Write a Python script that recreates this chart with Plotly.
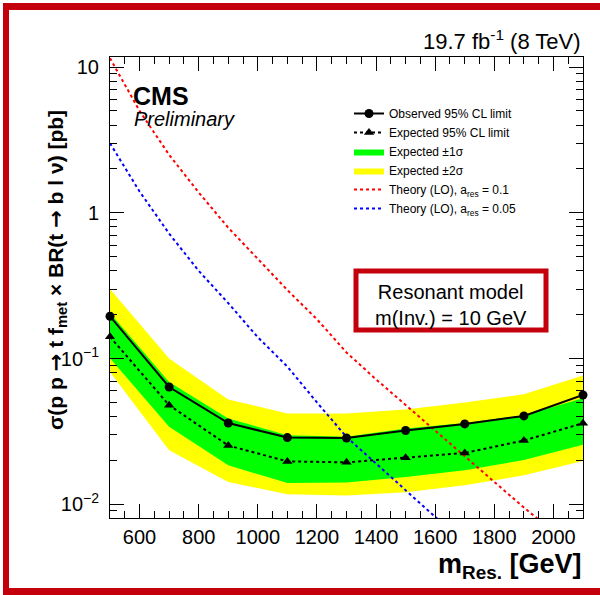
import plotly.graph_objects as go

# Resonant mass points (GeV)
mass = [500, 700, 900, 1100, 1300, 1500, 1700, 1900, 2100]

# 95% CL upper limits on sigma x BR (pb)
observed = [0.195, 0.0638, 0.0361, 0.0287, 0.0285, 0.0321, 0.0356, 0.0404, 0.0562]
expected = [0.141, 0.0479, 0.0253, 0.0197, 0.0194, 0.0209, 0.0225, 0.0274, 0.0360]

# Expected-limit uncertainty bands
band1_up = [0.205, 0.069, 0.0388, 0.0298, 0.0291, 0.0331, 0.0361, 0.0408, 0.0535]
band1_lo = [0.1005, 0.034, 0.0185, 0.0140, 0.0141, 0.0154, 0.0171, 0.0201, 0.0256]
band2_up = [0.30, 0.100, 0.0524, 0.042, 0.042, 0.0448, 0.0499, 0.0569, 0.0764]
band2_lo = [0.081, 0.0235, 0.01425, 0.0117, 0.0115, 0.0121, 0.0135, 0.0158, 0.0198]

# LO theory cross sections
theory_mass = [500, 600, 700, 800, 900, 1000, 1100, 1200, 1300, 1400,
               1500, 1600, 1700, 1800, 1900, 2000, 2100]
theory_a01 = [11.5, 5.0, 2.5, 1.38, 0.79, 0.48, 0.295, 0.186, 0.11, 0.072,
              0.048, 0.032, 0.0214, 0.0141, 0.0095, 0.0065, 0.0044]
theory_a005 = [3.0, 1.4, 0.72, 0.40, 0.24, 0.14, 0.088, 0.05, 0.029, 0.019,
               0.0125, 0.0082, 0.0055, 0.0037, 0.0025, 0.0017, 0.0011]

W, H = 600, 595
L, R, T, B = 110, 17, 57, 77
PW, PH = W - L - R, H - T - B
FONT = "Liberation Sans, Arial, Helvetica, sans-serif"
ARROW = '<span style="font-family:DejaVu Sans">\u2192</span>'
FRAME_RED = "#c4000c"


def px_x(p):
    return (p - L) / PW


def px_y(p):
    return (H - B - p) / PH


fig = go.Figure()

# +-2 sigma band
fig.add_trace(go.Scatter(
    x=mass + mass[::-1], y=band2_up + band2_lo[::-1],
    fill="toself", fillcolor="#ffff00", line=dict(width=0, color="#ffff00"),
    mode="lines", name="Expected \u00b12\u03c3", legendrank=4, hoverinfo="skip"))
# +-1 sigma band
fig.add_trace(go.Scatter(
    x=mass + mass[::-1], y=band1_up + band1_lo[::-1],
    fill="toself", fillcolor="#00ff00", line=dict(width=0, color="#00ff00"),
    mode="lines", name="Expected \u00b11\u03c3", legendrank=3, hoverinfo="skip"))

# Theory curves
fig.add_trace(go.Scatter(
    x=theory_mass, y=theory_a01, mode="lines",
    line=dict(color="#ff0000", width=2, dash="dot"),
    name="Theory (LO), a<sub>res</sub> = 0.1", legendrank=5))
fig.add_trace(go.Scatter(
    x=theory_mass, y=theory_a005, mode="lines",
    line=dict(color="#0000ff", width=2, dash="dot"),
    name="Theory (LO), a<sub>res</sub> = 0.05", legendrank=6))

# Expected and observed limits
fig.add_trace(go.Scatter(
    x=mass, y=expected, mode="lines+markers", cliponaxis=False,
    line=dict(color="black", width=2, dash="dot"),
    marker=dict(symbol="triangle-up", size=9, color="black"),
    name="Expected 95% CL limit", legendrank=2))
fig.add_trace(go.Scatter(
    x=mass, y=observed, mode="lines+markers", cliponaxis=False,
    line=dict(color="black", width=2),
    marker=dict(symbol="circle", size=9, color="black"),
    name="Observed 95% CL limit", legendrank=1))

axis_common = dict(
    showline=True, linecolor="black", linewidth=1, mirror="allticks",
    ticks="inside", tickcolor="black", tickwidth=1, ticklen=14,
    showgrid=False, zeroline=False,
    tickfont=dict(family=FONT, size=20, color="black"),
)

fig.update_xaxes(
    range=[500, 2100], tick0=0, dtick=200,
    minor=dict(ticks="inside", ticklen=7, dtick=50, tick0=0,
               tickcolor="black", tickwidth=1, showgrid=False),
    ticklabelstandoff=1,
    **axis_common)

fig.update_yaxes(
    type="log", range=[-2.094, 1.069],
    tickvals=[0.01, 0.1, 1, 10],
    ticktext=["10<sup>\u22122</sup>", "10<sup>\u22121</sup>", "1", "10"],
    minor=dict(ticks="inside", ticklen=7, dtick="D1",
               tickcolor="black", tickwidth=1, showgrid=False),
    ticklabelstandoff=6,
    **axis_common)

ytitle = ("<b>\u03c3(p p " + ARROW + " t f<sub>met</sub> \u00d7 BR(t "
          + ARROW + " b l \u03bd) [pb]</b>")

annotations = [
    dict(text="19.7 fb<sup>-1</sup> (8 TeV)", x=1.0, y=px_y(40),
         xanchor="right", yanchor="middle",
         font=dict(family=FONT, size=22, color="black")),
    dict(text="<b>CMS</b>", x=px_x(131), y=px_y(96),
         xanchor="left", yanchor="middle",
         font=dict(family=FONT, size=25, color="black")),
    dict(text="<i>Preliminary</i>", x=px_x(132), y=px_y(119),
         xanchor="left", yanchor="middle",
         font=dict(family=FONT, size=20, color="black")),
    dict(text="Resonant model<br>m(Inv.) = 10 GeV", x=px_x(451), y=px_y(305),
         xanchor="center", yanchor="middle", align="center",
         font=dict(family=FONT, size=20, color="black")),
    dict(text=ytitle, x=px_x(57), y=px_y(270), textangle=-90,
         xanchor="center", yanchor="middle",
         font=dict(family=FONT, size=21, color="black")),
    dict(text="<b>m<sub>Res.</sub> [GeV]</b>", x=1.0, y=px_y(566),
         xanchor="right", yanchor="middle",
         font=dict(family=FONT, size=27, color="black")),
]
for a in annotations:
    a.update(xref="paper", yref="paper", showarrow=False)

shapes = [
    # model box
    dict(type="rect", x0=px_x(356), x1=px_x(546), y0=px_y(330), y1=px_y(271),
         line=dict(color=FRAME_RED, width=5), fillcolor="white", layer="above"),
    # outer frame (left, top, bottom)
    dict(type="rect", x0=px_x(3), x1=px_x(9), y0=px_y(595), y1=px_y(3),
         line=dict(width=0), fillcolor=FRAME_RED),
    dict(type="rect", x0=px_x(3), x1=px_x(600), y0=px_y(10), y1=px_y(3),
         line=dict(width=0), fillcolor=FRAME_RED),
    dict(type="rect", x0=px_x(3), x1=px_x(600), y0=px_y(595), y1=px_y(588),
         line=dict(width=0), fillcolor=FRAME_RED),
]
for s in shapes:
    s.update(xref="paper", yref="paper")

fig.update_layout(
    width=W, height=H,
    margin=dict(l=L, r=R, t=T, b=B),
    paper_bgcolor="white", plot_bgcolor="white",
    annotations=annotations, shapes=shapes,
    showlegend=True,
    legend=dict(x=px_x(349), y=px_y(99), xanchor="left", yanchor="top",
                bgcolor="rgba(0,0,0,0)", borderwidth=0,
                font=dict(family=FONT, size=12, color="black"),
                tracegroupgap=0, itemwidth=30),
)

fig.write_html("out.html")
